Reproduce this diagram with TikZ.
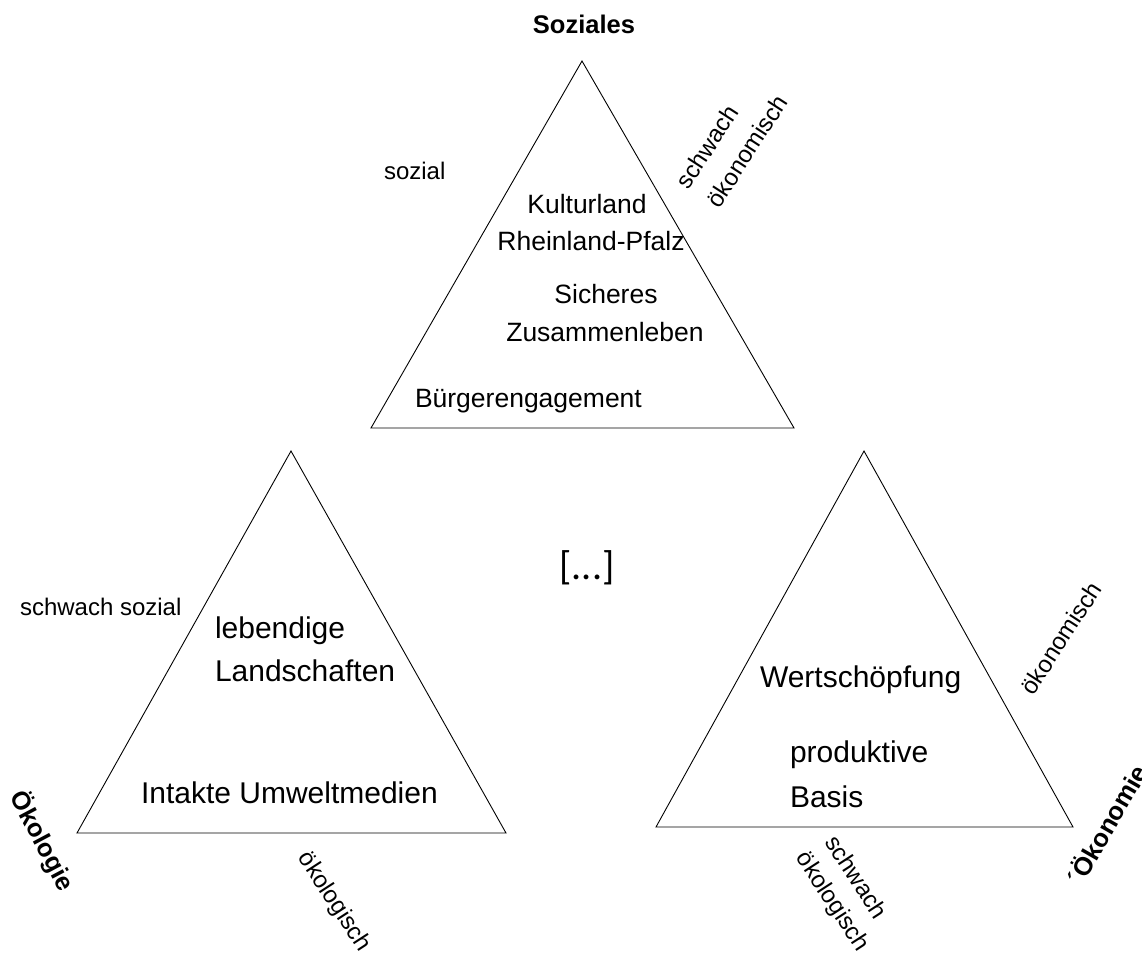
\documentclass[tikz,border=0pt]{standalone}
\usepackage{fontspec}
\setmainfont{Liberation Sans}
\newfontfamily\calib{Carlito}
\begin{document}
\begin{tikzpicture}[x=1pt,y=-1pt,
  tri/.style={draw=black,line width=0.9pt,line join=miter},
  txt/.style={inner sep=0pt,outer sep=0pt,text=black},
  sm/.style={txt,font=\fontsize{24}{30}\selectfont},
  tone/.style={txt,font=\fontsize{26.5}{37}\selectfont},
  ttwo/.style={txt,font=\fontsize{30}{43}\selectfont},
  bl/.style={txt,font=\bfseries\fontsize{25.5}{30}\selectfont}]
\useasboundingbox (0,0) rectangle (1142,954);
% triangles
\draw[tri] (582,61) -- (794,428) -- (371,428) -- cycle;
\draw[tri] (291,451) -- (506,833) -- (77,833) -- cycle;
\draw[tri] (864,451) -- (1073,827) -- (656,827) -- cycle;
% top
\node[bl,anchor=base] (soz) at (584,33) {Soziales};
\node[sm,anchor=base west] (sozial) at (384,179) {sozial};
\node[tone,anchor=base] (kl1) at (587,213) {Kulturland};
\node[tone,anchor=base] (kl2) at (591,250) {Rheinland-Pfalz};
\node[tone,anchor=base] (si1) at (606,303) {Sicheres};
\node[tone,anchor=base] (si2) at (605,341) {Zusammenleben};
\node[tone,anchor=base west] (bg) at (415,407) {Bürgerengagement};
\node[sm,rotate=57] (sw1) at (707,147) {schwach};
\node[sm,rotate=57] (sw2) at (747,151) {ökonomisch};
% left
\node[sm,anchor=base west] (ssoz) at (20,615) {schwach sozial};
\node[ttwo,anchor=base west] (leb) at (215,638) {lebendige};
\node[ttwo,anchor=base west] (land) at (215,681) {Landschaften};
\node[ttwo,anchor=base west] (int) at (141,803) {Intakte Umweltmedien};
\node[sm,rotate=-57] (oeklg) at (334,902) {ökologisch};
\node[bl,rotate=-62] (oekologie) at (42,841) {Ökologie};
% middle
\node[txt,font=\calib\fontsize{40}{48}\selectfont] (dots) at (587,568) {[...]};
% right
\node[ttwo,anchor=base west] (wert) at (760,687) {Wertschöpfung};
\node[ttwo,anchor=base west] (prod) at (790,762) {produktive};
\node[ttwo,anchor=base west] (basis) at (790,807) {Basis};
\node[sm,rotate=57] (oekn) at (1061,638) {ökonomisch};
\node[sm,rotate=-57] (sw3) at (857,877) {schwach};
\node[sm,rotate=-57] (sw4) at (832,902) {ökologisch};
\node[bl,rotate=60] (oekonomie) at (1106,824) {´Ökonomie};
\end{tikzpicture}
\end{document}
